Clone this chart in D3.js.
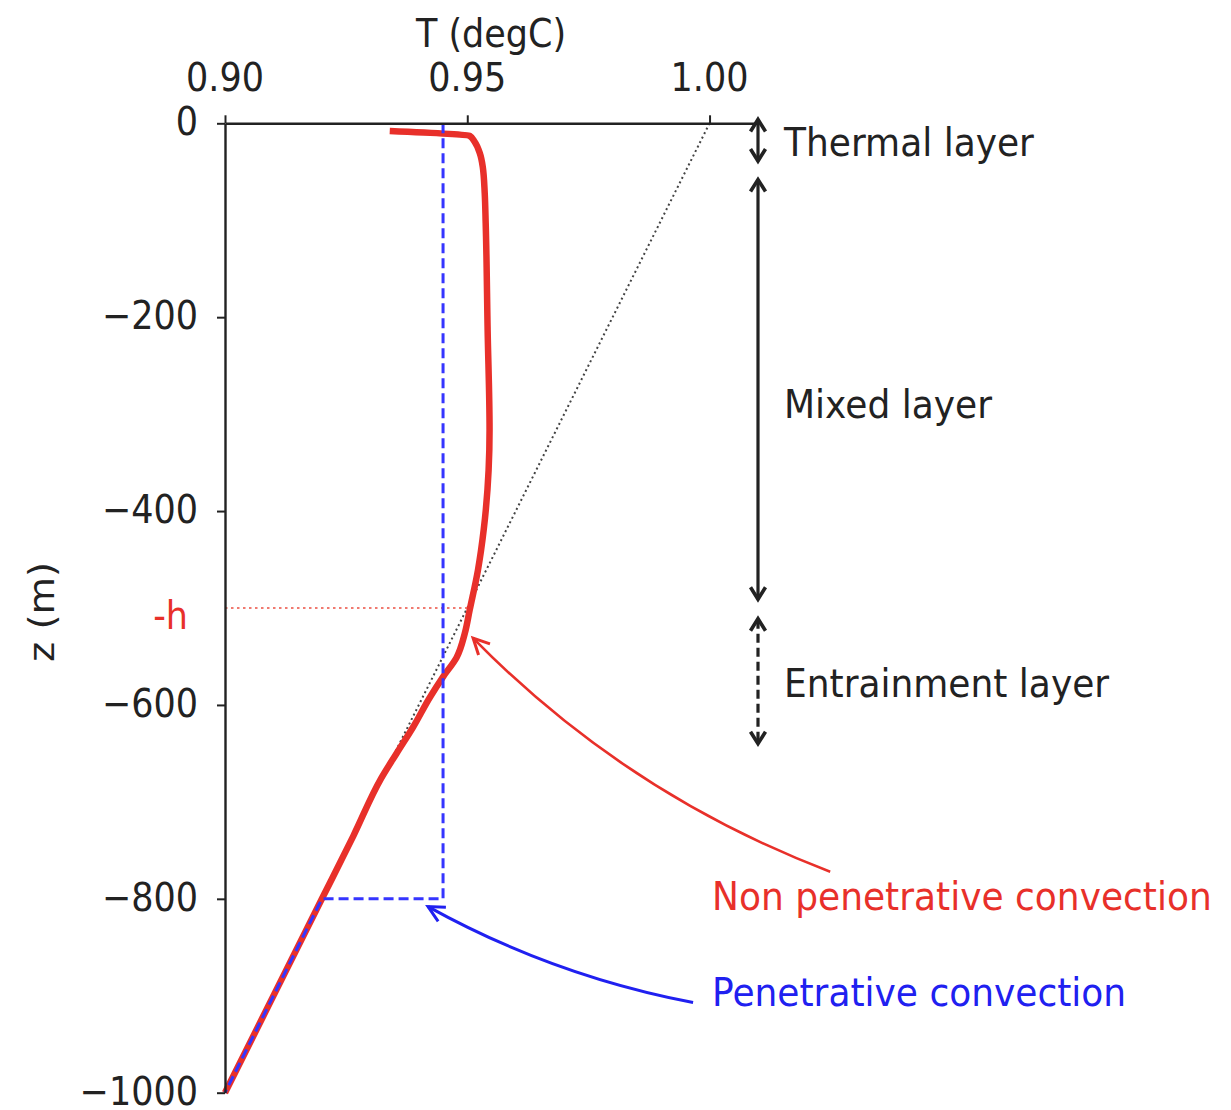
<!DOCTYPE html>
<html>
<head>
<meta charset="utf-8">
<script src="https://cdn.jsdelivr.net/npm/d3@7"></script>
<style>
body { margin: 0; background: #fff; }
text { font-family: "DejaVu Sans", sans-serif; }
</style>
</head>
<body>
<div id="chart"></div>
<script>
// ---- data ----
// red: temperature profile (degC) against depth (m)
var profileT = [0.9340, 0.9505, 0.9515, 0.9526, 0.9532, 0.9536, 0.9538, 0.9542, 0.9546, 0.9544, 0.9534, 0.9522, 0.9505, 0.9495, 0.9478, 0.9450, 0.9423, 0.9388, 0.9354, 0.9322, 0.9265, 0.9200, 0.9000];
var profileZ = [-8, -13, -19, -31, -45, -72, -103, -213, -316, -358, -419, -461, -502, -526, -551, -571, -592, -623, -650, -676, -735, -800, -1000];
// blue dashed: penetrative convection profile
var penT = [0.945, 0.945, 0.920, 0.900];
var penZ = [0, -800, -800, -1000];
// grey dotted: initial linear stratification
var bgT = [1.00, 0.90];
var bgZ = [0, -1000];
// mixed layer depth -h
var hZ = -500;
var hT = 0.9505;

var xTicks = [0.90, 0.95, 1.00];
var yTicks = [0, -200, -400, -600, -800, -1000];

// layer arrows on the right
var layerNames = ["Thermal layer", "Mixed layer", "Entrainment layer"];
var layerTop = [5, -57, -510];
var layerBottom = [-40, -492, -641];
var layerLabelZ = [-20, -290, -578];
var layerDashed = [false, false, true];

// annotations
var noteText = ["Non penetrative convection", "Penetrative convection"];
var noteColor = ["#e8302a", "#2020f0"];
var noteTextT = [1.0005, 1.0005];
var noteTextZ = [-798, -897];
var noteFromT = [1.0249, 0.9966];
var noteFromZ = [-772, -907];
var noteToT = [0.9512, 0.9419];
var noteToZ = [-531, -808];
var noteBend = [0.11, 0.08];

// ---- layout ----
var W = 1231, H = 1110;
var x = d3.scaleLinear().domain([0.90, 1.01]).range([225, 758]);
var y = d3.scaleLinear().domain([0, -1000]).range([123.3, 1092.7]);

var svg = d3.select("#chart").append("svg")
  .attr("width", W)
  .attr("height", H);

// text helper, the picture is slightly stretched vertically
function label(px, py, str, opts) {
  opts = opts || {};
  var tr = "translate(" + px + "," + py + ") scale(1,1.1)";
  if (opts.rotate) tr += " rotate(" + opts.rotate + ")";
  return svg.append("g").attr("transform", tr)
    .append("text")
    .attr("text-anchor", opts.anchor || "start")
    .attr("dy", "0.34em")
    .style("font-size", (opts.size || 36) + "px")
    .attr("fill", opts.color || "#222")
    .text(str);
}

var line = d3.line()
  .x(function(d) { return x(d.t); })
  .y(function(d) { return y(d.z); });

// background stratification
var bgData = d3.range(bgT.length).map(function(i) { return {t: bgT[i], z: bgZ[i]}; });
svg.append("path")
  .datum(bgData)
  .attr("d", line)
  .attr("fill", "none")
  .attr("stroke", "#444")
  .attr("stroke-width", 2)
  .attr("stroke-dasharray", "2,3");

// -h line
svg.append("path")
  .datum([{t: 0.90, z: hZ}, {t: hT, z: hZ}])
  .attr("d", line)
  .attr("fill", "none")
  .attr("stroke", "#f07a70")
  .attr("stroke-width", 2)
  .attr("stroke-dasharray", "2.5,3.5");

// red profile
var profData = d3.range(profileT.length).map(function(i) { return {t: profileT[i], z: profileZ[i]}; });
svg.append("path")
  .datum(profData)
  .attr("d", line.curve(d3.curveMonotoneY))
  .attr("fill", "none")
  .attr("stroke", "#e8302a")
  .attr("stroke-width", 6.5)
  .attr("stroke-linejoin", "round")
  .attr("stroke-linecap", "butt");
line.curve(d3.curveLinear);

// blue dashed profile
var penData = d3.range(penT.length).map(function(i) { return {t: penT[i], z: penZ[i]}; });
svg.append("path")
  .datum(penData)
  .attr("d", line)
  .attr("fill", "none")
  .attr("stroke", "#3535ff")
  .attr("stroke-width", 3)
  .attr("stroke-dasharray", "10,5");

// axes (top and left spines only)
svg.append("g")
  .attr("transform", "translate(0," + y(0) + ")")
  .call(d3.axisTop(x).tickValues(xTicks).tickSize(8).tickSizeOuter(0).tickFormat(""));
svg.append("g")
  .attr("transform", "translate(" + x(0.90) + ",0)")
  .call(d3.axisLeft(y).tickValues(yTicks).tickSize(8).tickSizeOuter(0).tickFormat(""));
svg.selectAll(".domain").attr("stroke", "#222").attr("stroke-width", 2.4);
svg.selectAll(".tick line").attr("stroke", "#222").attr("stroke-width", 2);

// tick labels
xTicks.forEach(function(v) {
  label(x(v), 78, d3.format(".2f")(v), {anchor: "middle", size: 35});
});
yTicks.forEach(function(v) {
  label(198, y(v) - 1, d3.format("d")(v), {anchor: "end", size: 35});
});
label(188, y(hZ) + 8, "-h", {anchor: "end", size: 35, color: "#e8302a"});

// axis titles
label(491, 34, "T (degC)", {anchor: "middle", size: 35});
label(42, 612, "z (m)", {anchor: "middle", size: 35, rotate: -90});

// arrow heads
function head(tipX, tipY, dx, dy, len, half, color, width) {
  var n = Math.sqrt(dx * dx + dy * dy);
  var ux = dx / n, uy = dy / n;
  var bx = tipX - ux * len, by = tipY - uy * len;
  var p = [[bx - uy * half, by + ux * half], [tipX, tipY], [bx + uy * half, by - ux * half]];
  svg.append("path")
    .attr("d", d3.line()(p))
    .attr("fill", "none")
    .attr("stroke", color)
    .attr("stroke-width", width)
    .attr("stroke-linejoin", "miter");
}

// layer arrows
var arrowX = x(1.01);
layerNames.forEach(function(name, i) {
  var y0 = y(layerTop[i]), y1 = y(layerBottom[i]);
  svg.append("line")
    .attr("x1", arrowX).attr("x2", arrowX)
    .attr("y1", y0 + 2).attr("y2", y1 - 2)
    .attr("stroke", "#222")
    .attr("stroke-width", 3.2)
    .attr("stroke-dasharray", layerDashed[i] ? "9,5" : null);
  head(arrowX, y0 + 1, 0, -1, 12, 7.5, "#222", 3.6);
  head(arrowX, y1 - 1, 0, 1, 12, 7.5, "#222", 3.6);
  label(arrowX + 26, y(layerLabelZ[i]), name, {size: 36});
});

// annotations with curved arrows
noteText.forEach(function(txt, i) {
  var p0 = [x(noteFromT[i]), y(noteFromZ[i])];
  var p2 = [x(noteToT[i]), y(noteToZ[i])];
  var dx = p2[0] - p0[0], dy = p2[1] - p0[1];
  var c = [(p0[0] + p2[0]) / 2 + noteBend[i] * dy, (p0[1] + p2[1]) / 2 - noteBend[i] * dx];
  var path = d3.path();
  path.moveTo(p0[0], p0[1]);
  path.quadraticCurveTo(c[0], c[1], p2[0], p2[1]);
  svg.append("path")
    .attr("d", path.toString())
    .attr("fill", "none")
    .attr("stroke", noteColor[i])
    .attr("stroke-width", i === 0 ? 2.6 : 3);
  head(p2[0], p2[1], p2[0] - c[0], p2[1] - c[1], 16, 8, noteColor[i], 3);
  label(x(noteTextT[i]), y(noteTextZ[i]), txt, {size: 36, color: noteColor[i]});
});
</script>
</body>
</html>
